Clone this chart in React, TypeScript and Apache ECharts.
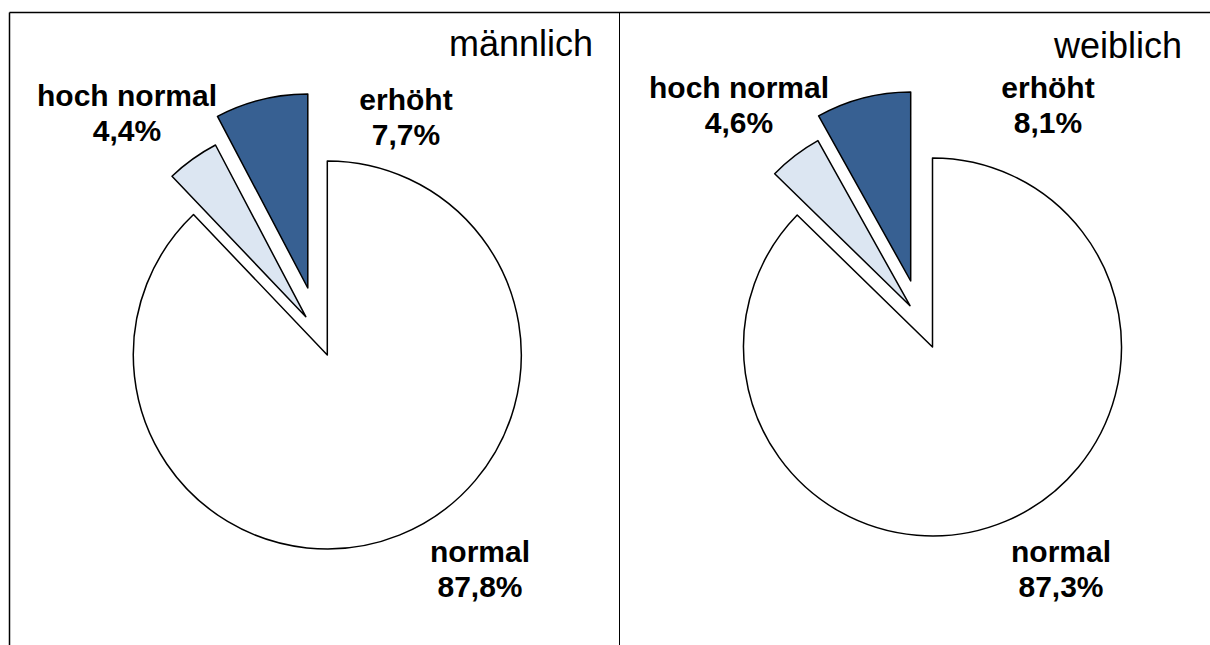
import React, { useEffect, useRef } from "react";
import * as echarts from "echarts";

const categories = ["normal", "hoch normal", "erhöht"];
const maleValues = [87.8, 4.4, 7.7];
const femaleValues = [87.3, 4.6, 8.1];
const panelTitles = ["männlich", "weiblich"];

const sliceColors = ["#FFFFFF", "#DCE6F2", "#376092"];
const FONT = "'Liberation Sans', Arial, Helvetica, sans-serif";

// layout (pixels)
const panels = [
  {
    values: maleValues,
    title: panelTitles[0],
    center: [327.3, 355],
    radius: 194,
    explode: [[0, 0], [-21.5, -38.3], [-19.5, -67]],
    labels: [[480, 569], [127, 113], [406, 117]],
    titlePos: [593, 43],
  },
  {
    values: femaleValues,
    title: panelTitles[1],
    center: [932.5, 347],
    radius: 189,
    explode: [[0, 0], [-22.5, -41.3], [-21.8, -66]],
    labels: [[1061, 569], [739, 105], [1048, 105]],
    titlePos: [1182, 45],
  },
];

const fmt = (v: number) => v.toFixed(1).replace(".", ",") + "%";

export default function App() {
  const ref = useRef<HTMLDivElement>(null);
  useEffect(() => {
    if (!ref.current) return;
    const chart = echarts.init(ref.current, undefined, { renderer: "svg" });
    const series: any[] = [];
    panels.forEach((p) => {
      categories.forEach((_, vis) => {
        const [lx, ly] = p.labels[vis];
        series.push({
          type: "pie",
          silent: true,
          animation: false,
          startAngle: 90,
          clockwise: true,
          center: [p.center[0] + p.explode[vis][0], p.center[1] + p.explode[vis][1]],
          radius: [0, p.radius],
          avoidLabelOverlap: false,
          emphasis: { disabled: true },
          labelLine: { show: false },
          labelLayout: () => ({ x: lx, y: ly, align: "center", verticalAlign: "middle" }),
          data: categories.map((name, i) => ({
            name,
            value: p.values[i],
            itemStyle:
              i === vis
                ? { color: sliceColors[i], borderColor: "#000000", borderWidth: 1.5 }
                : { color: "rgba(0,0,0,0)", borderWidth: 0 },
            label:
              i === vis
                ? {
                    show: true,
                    position: "outside",
                    formatter: (q: any) => `${q.name}\n${fmt(q.value)}`,
                    fontFamily: FONT,
                    fontWeight: "bold",
                    fontSize: 30,
                    lineHeight: 35,
                    color: "#000",
                    align: "center",
                  }
                : { show: false },
          })),
        });
      });
    });

    const graphic: any[] = [
      { type: "line", shape: { x1: 9.5, y1: 12.5, x2: 1210, y2: 12.5 }, style: { stroke: "#000", lineWidth: 1.5 } },
      { type: "line", shape: { x1: 9.5, y1: 12.5, x2: 9.5, y2: 645 }, style: { stroke: "#000", lineWidth: 1.5 } },
      { type: "line", shape: { x1: 619.5, y1: 12.5, x2: 619.5, y2: 645 }, style: { stroke: "#000", lineWidth: 1 } },
      ...panels.map((p) => ({
        type: "text",
        x: p.titlePos[0],
        y: p.titlePos[1],
        style: {
          text: p.title,
          font: `36px ${FONT}`,
          fill: "#000",
          textAlign: "right",
          textVerticalAlign: "middle",
        },
      })),
    ];

    chart.setOption({
      animation: false,
      backgroundColor: "#FFFFFF",
      series,
      graphic,
    });
    return () => chart.dispose();
  }, []);
  return (
    <div
      ref={ref}
      style={{ position: "fixed", left: 0, top: 0, width: 1210, height: 645, background: "#fff" }}
    />
  );
}
